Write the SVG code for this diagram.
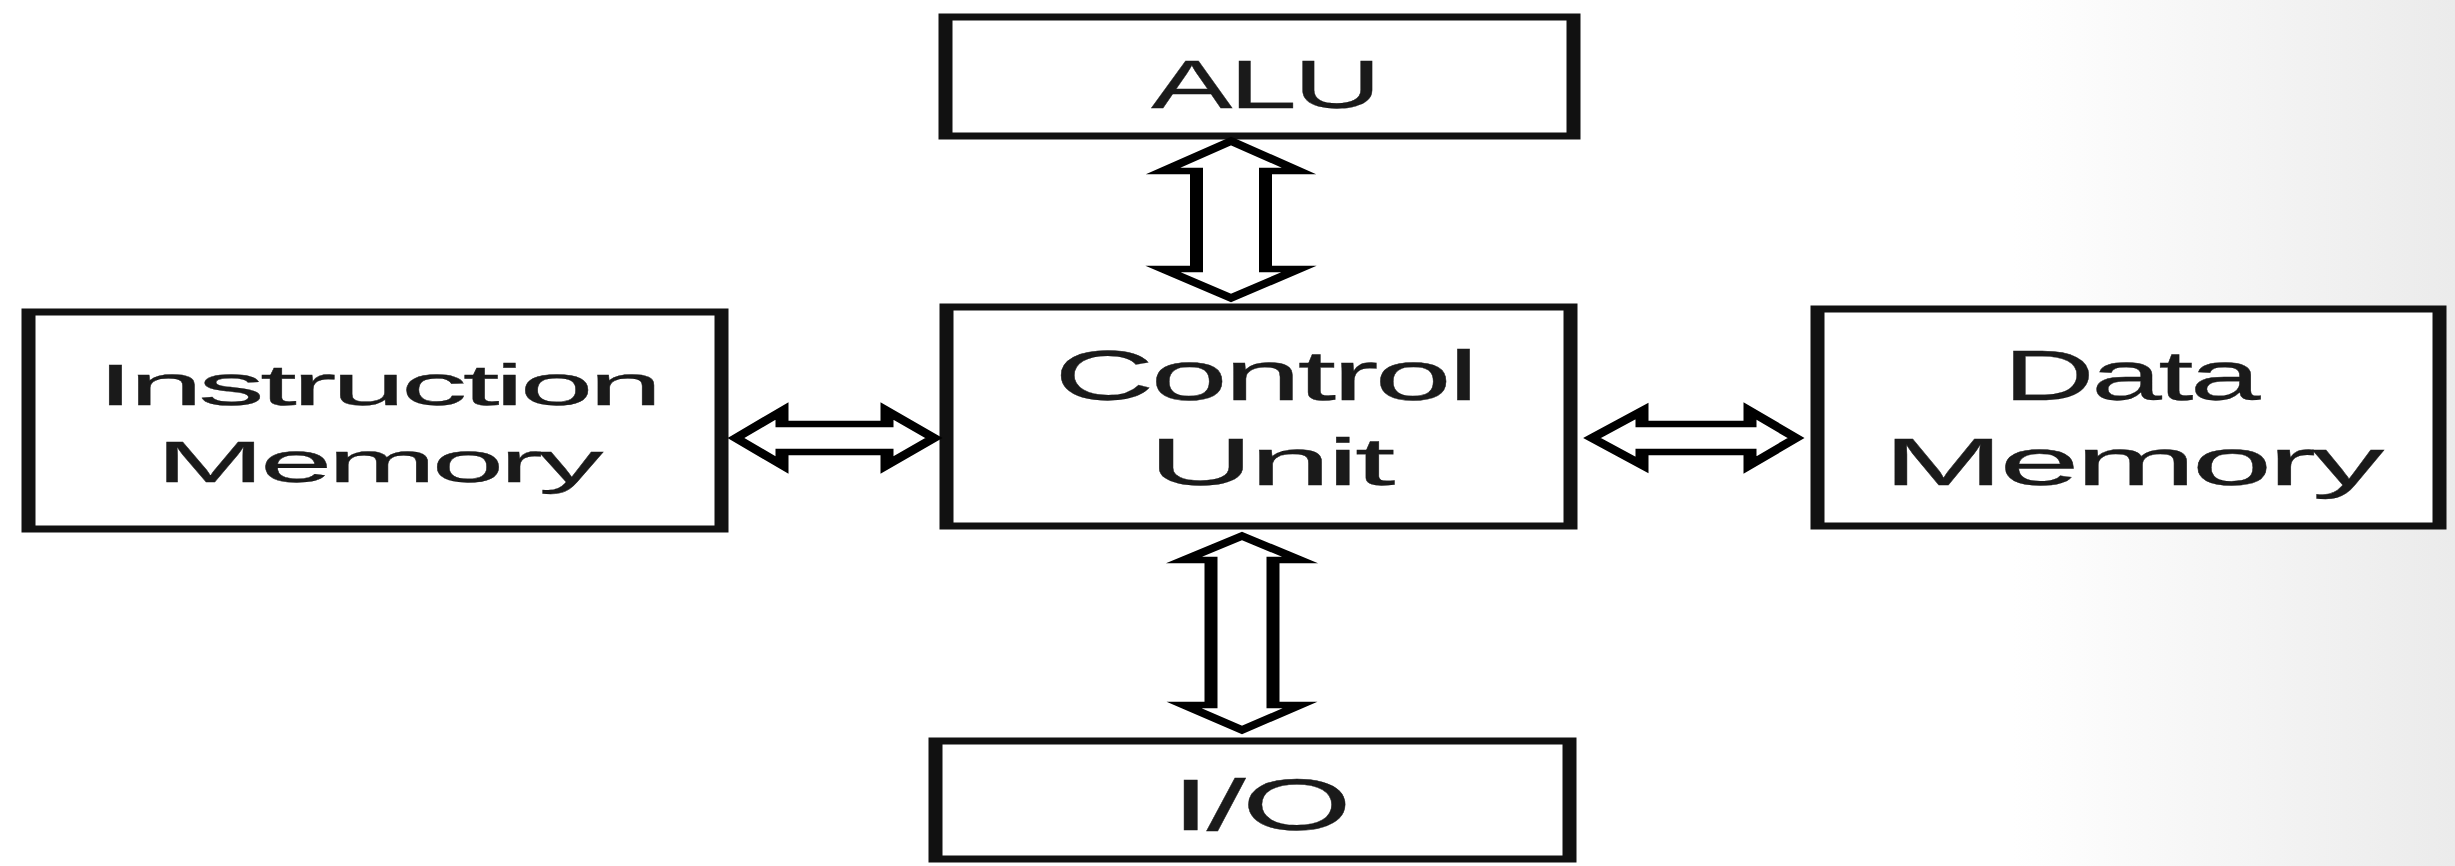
<svg xmlns="http://www.w3.org/2000/svg" width="2455" height="866" viewBox="0 0 2455 866">
<defs>
<linearGradient id="bg" x1="0" y1="0" x2="1" y2="0">
<stop offset="0.82" stop-color="#ffffff"/>
<stop offset="1" stop-color="#ebebeb"/>
</linearGradient>
<style>
.box{fill:#fff;stroke:#111;stroke-width:7}
.arrow{fill:#fff;stroke:#000;stroke-width:6.5;stroke-linejoin:miter;stroke-miterlimit:10}
.lbl{font-family:"Liberation Sans",Arial,sans-serif;fill:#1a1a1a;stroke:#1a1a1a;stroke-width:0.25;text-anchor:middle;letter-spacing:-2px}
</style>
</defs>
<rect width="2455" height="866" fill="url(#bg)"/>
<g transform="scale(2,1)">
<g id="alu">
<rect class="box" x="472.75" y="17" width="314" height="119"/>
<text class="lbl" x="632.25" y="108" font-size="68" textLength="113.5" lengthAdjust="spacingAndGlyphs">ALU</text>
</g>
<g id="control-unit">
<rect class="box" x="473.25" y="307" width="312" height="219"/>
<text class="lbl" x="632.25" y="400" font-size="70" textLength="210.5" lengthAdjust="spacingAndGlyphs">Control</text>
<text class="lbl" x="634.75" y="485" font-size="66" textLength="121.5" lengthAdjust="spacingAndGlyphs">Unit</text>
</g>
<g id="instruction-memory">
<rect class="box" x="14.25" y="312" width="346.5" height="217"/>
<text class="lbl" x="188.75" y="405" font-size="57" textLength="280.5" lengthAdjust="spacingAndGlyphs">Instruction</text>
<text class="lbl" x="188.75" y="482" font-size="57" textLength="221.5" lengthAdjust="spacingAndGlyphs">Memory</text>
</g>
<g id="data-memory">
<rect class="box" x="908.75" y="309" width="311" height="217"/>
<text class="lbl" x="1065" y="400" font-size="70" textLength="127" lengthAdjust="spacingAndGlyphs">Data</text>
<text class="lbl" x="1065.75" y="485" font-size="66" textLength="248.5" lengthAdjust="spacingAndGlyphs">Memory</text>
</g>
<g id="io">
<rect class="box" x="467.75" y="741" width="317" height="118"/>
<text class="lbl" x="629.75" y="830" font-size="72" textLength="88.5" lengthAdjust="spacingAndGlyphs">I/O</text>
</g>
<g id="connectors">
<polygon class="arrow" points="615.5,141 649.5,171 632.75,171 632.75,269 649.5,269 615.5,298 581.5,269 598.25,269 598.25,171 581.5,171"/>
<polygon class="arrow" points="621,536 650,560 636.5,560 636.5,705 650,705 621,730 592,705 605.5,705 605.5,560 592,560"/>
<polygon class="arrow" points="368,438 391,411 391,424 443.5,424 443.5,411 467,438 443.5,465 443.5,452 391,452 391,465"/>
<polygon class="arrow" points="796,438 821,411 821,424 875,424 875,411 898,438 875,465 875,452 821,452 821,465"/>
</g>
</g>
</svg>
